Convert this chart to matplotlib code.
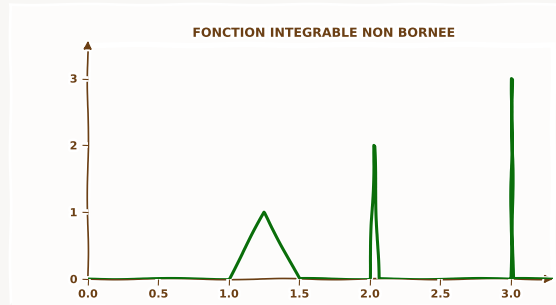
import numpy as np
import matplotlib
matplotlib.use("Agg")
import matplotlib.pyplot as plt
from matplotlib.patches import Rectangle

# triangle spikes: start, width, height
spike_starts = [1.0, 2.0, 3.0]
spike_widths = [0.5, 0.0625, 0.015]
spike_heights = [1, 2, 3]

x_ticks = [0.0, 0.5, 1.0, 1.5, 2.0, 2.5, 3.0]
y_ticks = [0, 1, 2, 3]
title = "FONCTION INTEGRABLE NON BORNEE"

brown = "#6b3f14"
green = "#0a6e0a"

with plt.xkcd(scale=0.6, length=120, randomness=2):
    plt.rcParams["font.family"] = ["DejaVu Sans"]
    fig = plt.figure(figsize=(5.56, 3.05), dpi=100, facecolor="#f8f7f5")
    fig.patches.append(Rectangle((12 / 556, 0), 1, 1 - 6 / 305, transform=fig.transFigure,
                                 facecolor="#fdfcfb", edgecolor="none", zorder=-5))
    ax = fig.add_axes([0.158, 0.085, 0.837, 0.767])
    ax.set_facecolor("none")

    # build the polyline from the spike definitions
    xs = [0.0]
    ys = [0.0]
    for s, w, h in zip(spike_starts, spike_widths, spike_heights):
        xs += [s, s + w / 2, s + w]
        ys += [0, h, 0]
    xs.append(3.3)
    ys.append(0)
    ax.plot(xs, ys, color=green, lw=2.2, zorder=4)

    ax.set_xlim(0, 3.3)
    ax.set_ylim(0, 3.5)
    for side in ["top", "right", "left", "bottom"]:
        ax.spines[side].set_visible(False)
    ax.annotate("", xy=(0, 1.02), xytext=(0, 0), xycoords="axes fraction", zorder=1,
                arrowprops=dict(arrowstyle="-|>", color=brown, lw=1.2, mutation_scale=12,
                                shrinkA=0, shrinkB=0))
    ax.annotate("", xy=(1.0, 0), xytext=(0, 0), xycoords="axes fraction", zorder=1,
                arrowprops=dict(arrowstyle="-|>", color=brown, lw=1.2, mutation_scale=12,
                                shrinkA=0, shrinkB=0))

    ax.set_xticks(x_ticks)
    ax.set_xticklabels([f"{t:.1f}" for t in x_ticks])
    ax.set_yticks(y_ticks)
    ax.tick_params(colors=brown, labelcolor=brown, labelsize=8, length=4, width=0.8)
    for lbl in ax.get_xticklabels() + ax.get_yticklabels():
        lbl.set_fontweight("bold")

    ax.set_title(title, color=brown, fontsize=9, fontweight="bold", pad=6, x=0.506)

    fig.savefig("out.png", dpi=100, facecolor=fig.get_facecolor())
